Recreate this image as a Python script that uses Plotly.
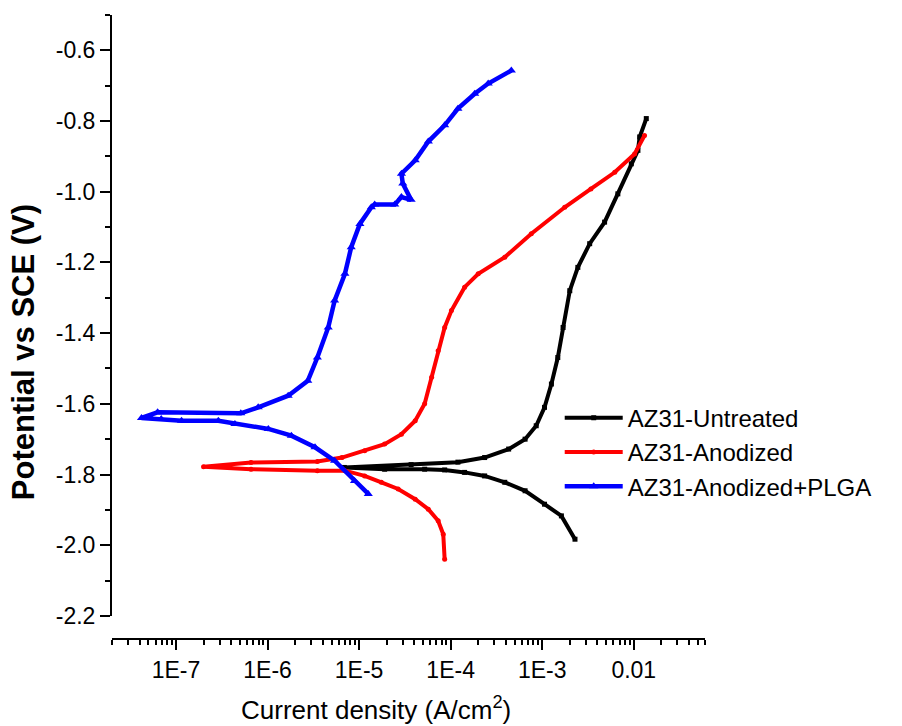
import plotly.graph_objects as go

# ---------------- data ----------------
untreated_i = [2.28e-3, 1.62e-3, 1.06e-3, 6.5e-4, 3.9e-4, 2.35e-4, 1.42e-4, 8.6e-5, 5.2e-5, 1.9e-5, 6.9e-6,
               3.7e-5, 1.2e-4, 2.35e-4, 4.3e-4, 6.5e-4, 8.6e-4, 1.06e-3, 1.26e-3, 1.48e-3, 1.69e-3, 2.0e-3,
               2.45e-3, 3.3e-3, 4.8e-3, 6.7e-3, 9.4e-3, 1.11e-2, 1.16e-2, 1.37e-2]
untreated_v = [-1.983, -1.917, -1.884, -1.846, -1.822, -1.804, -1.794, -1.787, -1.785, -1.785, -1.780,
               -1.772, -1.765, -1.752, -1.728, -1.700, -1.662, -1.610, -1.544, -1.469, -1.384, -1.280,
               -1.214, -1.147, -1.086, -1.006, -0.921, -0.883, -0.845, -0.793]

anodized_i = [8.6e-5, 8.3e-5, 7.3e-5, 5.7e-5, 4.1e-5, 2.67e-5, 1.75e-5, 1.15e-5, 7.0e-6, 3.5e-6, 6.6e-7, 2.0e-7,
              6.6e-7, 3.5e-6, 6.5e-6, 1.15e-5, 1.9e-5, 2.9e-5, 4.1e-5, 5.2e-5, 6.2e-5, 7.3e-5, 8.6e-5,
              1.02e-4, 1.42e-4, 2.0e-4, 3.9e-4, 7.6e-4, 1.76e-3, 3.4e-3, 6.2e-3, 1.02e-2, 1.31e-2]
anodized_v = [-2.040, -1.969, -1.931, -1.898, -1.870, -1.841, -1.822, -1.804, -1.789, -1.789, -1.785, -1.778,
              -1.766, -1.763, -1.752, -1.733, -1.714, -1.686, -1.648, -1.600, -1.525, -1.450, -1.384,
              -1.336, -1.270, -1.232, -1.185, -1.119, -1.044, -0.992, -0.945, -0.893, -0.841]

plga_i = [1.26e-5, 8.9e-6, 5.4e-6, 3.3e-6, 1.82e-6, 1.02e-6, 4.4e-7, 2.9e-7, 1.15e-7, 6.9e-8, 4.2e-8,
          6.3e-8, 5.1e-7, 7.9e-7, 1.68e-6, 2.75e-6, 3.5e-6, 4.6e-6, 5.4e-6, 7.0e-6, 8.2e-6, 1.02e-5,
          1.36e-5, 1.48e-5, 2.45e-5, 2.9e-5, 3.7e-5, 3.0e-5, 2.9e-5, 4.1e-5, 5.7e-5, 8.6e-5, 1.2e-4,
          1.83e-4, 2.57e-4, 4.6e-4]
plga_v = [-1.855, -1.818, -1.761, -1.723, -1.690, -1.671, -1.657, -1.648, -1.648, -1.643, -1.640,
          -1.624, -1.627, -1.610, -1.577, -1.535, -1.469, -1.384, -1.308, -1.232, -1.157, -1.091,
          -1.044, -1.036, -1.036, -1.015, -1.023, -0.977, -0.949, -0.911, -0.858, -0.812, -0.765,
          -0.723, -0.694, -0.657]

series_names = ["AZ31-Untreated", "AZ31-Anodized", "AZ31-Anodized+PLGA"]

x_tick_vals = [1e-7, 1e-6, 1e-5, 1e-4, 1e-3, 1e-2]
x_tick_text = ["1E-7", "1E-6", "1E-5", "1E-4", "1E-3", "0.01"]
y_tick_vals = [-2.2, -2.0, -1.8, -1.6, -1.4, -1.2, -1.0, -0.8, -0.6]
y_tick_text = ["-2.2", "-2.0", "-1.8", "-1.6", "-1.4", "-1.2", "-1.0", "-0.8", "-0.6"]
x_minor_vals = [m * 10.0 ** e for e in range(-8, -1) for m in range(2, 10)]

FONT = "Liberation Sans, Arial, sans-serif"

fig = go.Figure()
fig.add_trace(go.Scatter(x=untreated_i, y=untreated_v, name=series_names[0], mode="lines+markers",
                         line=dict(color="black", width=4),
                         marker=dict(symbol="square", size=5, color="black")))
fig.add_trace(go.Scatter(x=anodized_i, y=anodized_v, name=series_names[1], mode="lines+markers",
                         line=dict(color="#ff0000", width=4),
                         marker=dict(symbol="circle", size=5, color="#ff0000")))
fig.add_trace(go.Scatter(x=plga_i, y=plga_v, name=series_names[2], mode="lines+markers",
                         line=dict(color="#0000ff", width=4.5),
                         marker=dict(symbol="triangle-up", size=8, color="#0000ff")))

fig.update_layout(
    width=902, height=726,
    margin=dict(l=112, r=197, t=15, b=87),
    paper_bgcolor="white", plot_bgcolor="white",
    font=dict(family=FONT, size=23, color="black"),
    showlegend=True,
    legend=dict(x=0.755, y=0.39, xanchor="left", yanchor="top",
                bgcolor="rgba(0,0,0,0)", font=dict(family=FONT, size=24, color="black"),
                itemwidth=58, tracegroupgap=0),
    xaxis=dict(type="log", range=[-7.699, -1.222], anchor="free", position=0,
               showline=True, linecolor="black", linewidth=2, showgrid=False, zeroline=False,
               ticks="outside", ticklen=10, tickwidth=2, tickcolor="black",
               tickmode="array", tickvals=x_tick_vals, ticktext=x_tick_text,
               tickfont=dict(family=FONT, size=23, color="black"),
               minor=dict(tickmode="array", tickvals=x_minor_vals, ticks="outside",
                          ticklen=5, tickwidth=2, tickcolor="black", showgrid=False)),
    yaxis=dict(range=[-2.2, -0.5], domain=[0.037, 1],
               showline=True, linecolor="black", linewidth=2, showgrid=False, zeroline=False,
               ticks="outside", ticklen=10, tickwidth=2, tickcolor="black",
               tickmode="array", tickvals=y_tick_vals, ticktext=y_tick_text,
               tickfont=dict(family=FONT, size=23, color="black"),
               minor=dict(dtick=0.1, tick0=-0.5, ticks="outside", ticklen=5, tickwidth=2,
                          tickcolor="black", showgrid=False)),
    annotations=[
        dict(text="<b>Potential vs SCE (V)</b>", xref="paper", yref="paper",
             x=-0.148, y=0.46, xanchor="center", yanchor="middle", textangle=-90,
             showarrow=False, font=dict(family=FONT, size=31, color="black")),
        dict(text="Current density (A/cm<sup>2</sup>)", xref="paper", yref="paper",
             x=0.445, y=-0.111, xanchor="center", yanchor="middle",
             showarrow=False, font=dict(family=FONT, size=26, color="black")),
    ],
)

fig.write_html("out.html")
